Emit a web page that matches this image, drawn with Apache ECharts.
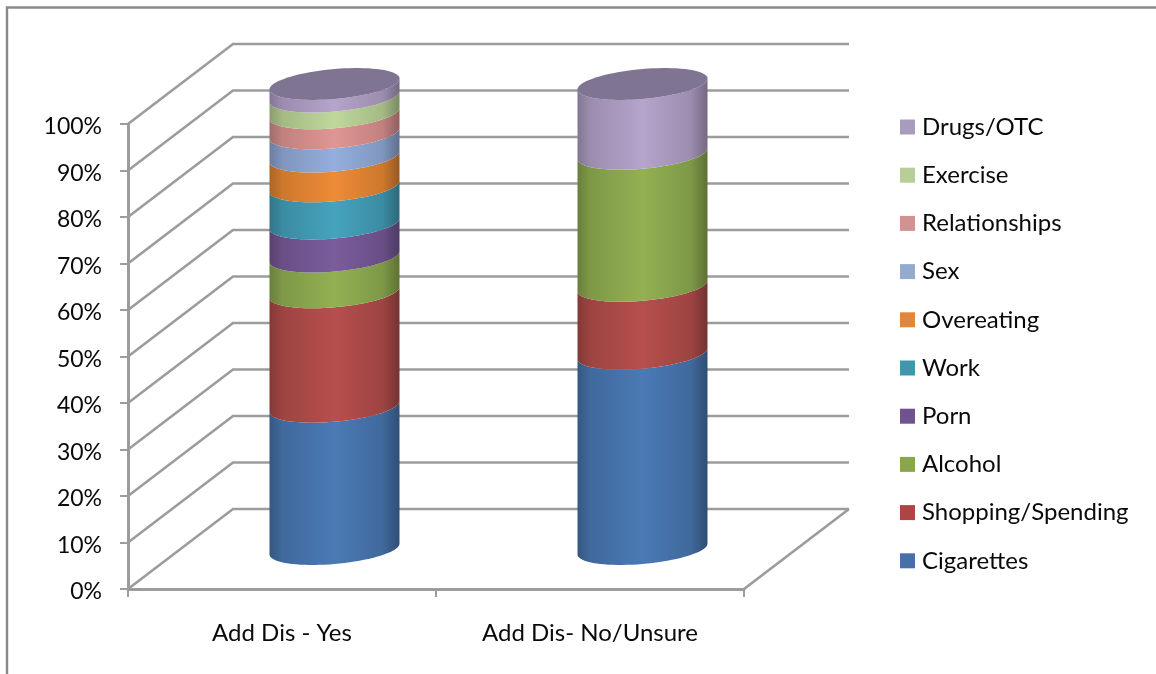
<!DOCTYPE html>
<html>
<head>
<meta charset="utf-8">
<style>html,body{margin:0;padding:0;background:#fff}#chart{width:1156px;height:674px}</style>
<script src="https://cdn.jsdelivr.net/npm/echarts@6/dist/echarts.min.js"></script>
</head>
<body>
<div id="chart"></div>
<script>
const categories = ['Add Dis - Yes', 'Add Dis- No/Unsure'];
const seriesNames = ['Cigarettes', 'Shopping/Spending', 'Alcohol', 'Porn', 'Work', 'Overeating', 'Sex', 'Relationships', 'Exercise', 'Drugs/OTC'];
const cigarettes = [30.6, 42.0];
const shopping = [24.6, 14.6];
const alcohol = [7.7, 28.4];
const porn = [7.1, 0];
const work = [8.0, 0];
const overeating = [6.4, 0];
const sex = [5.0, 0];
const relationships = [4.3, 0];
const exercise = [3.6, 0];
const drugs = [2.7, 15.0];
const seriesValues = [cigarettes, shopping, alcohol, porn, work, overeating, sex, relationships, exercise, drugs];
const yTicks = [0, 10, 20, 30, 40, 50, 60, 70, 80, 90, 100];

const swatchColors = ['#4570a8', '#ac4543', '#8ba54c', '#6f5390', '#3f96ad', '#dd883c', '#94aacf', '#d09392', '#b9cd96', '#a99bbd'];
const sideColors = ['#4a7ab5', '#b64f4d', '#93b152', '#7a5c9c', '#45a3bd', '#ee8b36', '#95aedd', '#e09694', '#bfd89a', '#b5a4cb'];
const capColor = '#7f7492';
const gridColor = '#9c9c9c';

// Oblique projection of the 3D box: how far the back wall sits from the front plane.
const DEPTH_X = 105, DEPTH_Y = -80;
// Cylinder cross-section: half width, half height and the tilt of its ellipse.
const RADIUS_X = 65, RADIUS_Y = 15, TILT = 5.5;

function shade(hex, k) {
  const n = parseInt(hex.slice(1), 16);
  const c = [n >> 16, (n >> 8) & 255, n & 255].map(v => Math.round(v * k));
  return 'rgb(' + c.join(',') + ')';
}

function sideFill(hex) {
  return new echarts.graphic.LinearGradient(0, 0, 1, 0, [
    { offset: 0, color: shade(hex, 0.72) },
    { offset: 0.1, color: shade(hex, 0.86) },
    { offset: 0.5, color: shade(hex, 1) },
    { offset: 0.87, color: shade(hex, 0.86) },
    { offset: 1, color: shade(hex, 0.64) }
  ]);
}

function arc(cx, cy, from, to, steps) {
  const pts = [];
  for (let i = 0; i <= steps; i++) {
    const t = from + (to - from) * i / steps;
    pts.push([cx + RADIUS_X * Math.cos(t), cy + RADIUS_Y * Math.sin(t) - TILT * Math.cos(t)]);
  }
  return pts;
}

function renderBand(colorIndex) {
  return function (params, api) {
    const start = api.value(1), end = api.value(2);
    if (end - start <= 0) return null;
    const low = api.coord([api.value(0), start]);
    const high = api.coord([api.value(0), end]);
    const cx = low[0] + DEPTH_X / 2;
    const y0 = low[1] + DEPTH_Y / 2;
    const y1 = high[1] + DEPTH_Y / 2;
    const points = arc(cx, y1, Math.PI, 0, 40).concat(arc(cx, y0, 0, Math.PI, 40));
    const children = [{
      type: 'polygon',
      shape: { points: points },
      style: { fill: sideFill(sideColors[colorIndex]) }
    }];
    if (end >= 99.99) {
      children.push({
        type: 'polygon',
        shape: { points: arc(cx, y1, 0, Math.PI * 2, 80) },
        style: { fill: capColor }
      });
    }
    return { type: 'group', children: children };
  };
}

const bandSeries = seriesNames.map((name, s) => ({
  name: name,
  type: 'custom',
  z: 5,
  silent: true,
  renderItem: renderBand(s),
  itemStyle: { color: swatchColors[s] },
  encode: { x: 0, y: [1, 2] },
  data: categories.map((c, i) => {
    let base = 0;
    for (let k = 0; k < s; k++) base += seriesValues[k][i];
    return [i, base, base + seriesValues[s][i]];
  })
}));

// Back-wall gridlines with their slanted run along the side wall, plus the floor's right edge.
const wallSeries = {
  type: 'custom',
  name: 'wall',
  z: 1,
  silent: true,
  encode: { y: 1 },
  renderItem: function (params, api) {
    const p = api.coord([0, api.value(1)]);
    const size = api.size([1, 0]);
    const left = p[0] - size[0] / 2;
    const right = left + size[0] * categories.length;
    const children = [{
      type: 'polyline',
      shape: { points: [[left, p[1]], [left + DEPTH_X, p[1] + DEPTH_Y], [right + DEPTH_X, p[1] + DEPTH_Y]] },
      style: { stroke: gridColor, lineWidth: 2.6, fill: null }
    }];
    if (api.value(1) === 0) {
      children.push({
        type: 'line',
        shape: { x1: right, y1: p[1], x2: right + DEPTH_X, y2: p[1] + DEPTH_Y },
        style: { stroke: gridColor, lineWidth: 2.6 }
      });
    }
    return { type: 'group', children: children };
  },
  data: yTicks.map(v => [0, v])
};

const textColor = '#0a0a0a';
const chart = echarts.init(document.getElementById('chart'), null, { renderer: 'canvas' });
chart.setOption({
  animation: false,
  backgroundColor: '#fff',
  graphic: [{
    type: 'rect',
    shape: { x: 7, y: 7.5, width: 1300, height: 800 },
    style: { fill: null, stroke: '#8a8a8a', lineWidth: 2.4 },
    silent: true
  }],
  grid: { left: 128, top: 124, width: 616, height: 465 },
  xAxis: {
    type: 'category',
    data: categories,
    axisLine: { lineStyle: { color: gridColor, width: 3 } },
    axisTick: { show: true, length: 8, lineStyle: { color: gridColor, width: 2 } },
    axisLabel: { margin: 32, color: textColor, fontFamily: 'Lato', fontSize: 24 }
  },
  yAxis: {
    type: 'value',
    min: 0,
    max: 100,
    interval: 10,
    axisLine: { show: true, lineStyle: { color: gridColor, width: 3 } },
    axisTick: { show: true, length: 8, lineStyle: { color: gridColor, width: 2 } },
    splitLine: { show: false },
    axisLabel: {
      margin: 26,
      formatter: '{pct|{value}%}',
      rich: { pct: { padding: [6, 0, 0, 0], color: textColor, fontFamily: 'Lato', fontSize: 23 } }
    }
  },
  legend: {
    orient: 'vertical',
    left: 895,
    top: 110,
    itemWidth: 15,
    itemHeight: 15,
    itemGap: 24.2,
    icon: 'rect',
    selectedMode: false,
    data: seriesNames.slice().reverse(),
    textStyle: { padding: [0, 0, 0, 2], color: textColor, fontFamily: 'Lato', fontSize: 24 }
  },
  series: [wallSeries].concat(bandSeries)
});
</script>
</body>
</html>
